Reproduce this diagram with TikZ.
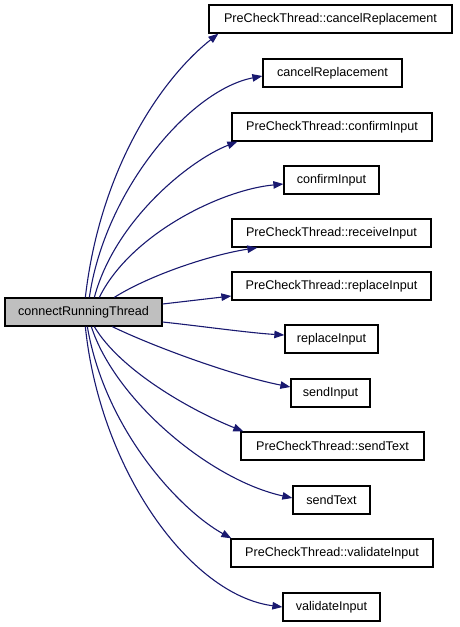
\documentclass[tikz,border=0pt]{standalone}
\usepackage{fontspec}
\setmainfont{Liberation Sans}
\usetikzlibrary{arrows.meta}
\definecolor{edgeblue}{RGB}{25,25,112}
\definecolor{maingray}{RGB}{191,191,191}
\tikzset{
  fnbox/.style={draw=black, line width=1.3pt, fill=white, minimum height=28pt, inner sep=0pt, font=\fontsize{12.6}{14}\selectfont},
  mainbox/.style={fnbox, fill=maingray},
  call/.style={draw=edgeblue, line width=1.1pt, -{Triangle[length=10pt,width=7.5pt]}}
}
\begin{document}
\begin{tikzpicture}[x=1pt,y=-1pt]
\useasboundingbox (0,0) rectangle (459,627);
\node[mainbox, minimum width=157pt] (m) at (83.5,312) {connectRunningThread};
\node[fnbox, minimum width=243pt] (b1) at (330.5,19) {PreCheckThread::cancelReplacement};
\node[fnbox, minimum width=139pt] (b2) at (332.5,73) {cancelReplacement};
\node[fnbox, minimum width=200pt] (b3) at (332,127) {PreCheckThread::confirmInput};
\node[fnbox, minimum width=95pt] (b4) at (331.5,180) {confirmInput};
\node[fnbox, minimum width=199pt] (b5) at (331.5,233) {PreCheckThread::receiveInput};
\node[fnbox, minimum width=199pt] (b6) at (331.5,286) {PreCheckThread::replaceInput};
\node[fnbox, minimum width=93pt] (b7) at (331.5,339) {replaceInput};
\node[fnbox, minimum width=79pt] (b8) at (330.5,393) {sendInput};
\node[fnbox, minimum width=183pt] (b9) at (332.5,446) {PreCheckThread::sendText};
\node[fnbox, minimum width=77pt] (b10) at (331.5,500) {sendText};
\node[fnbox, minimum width=202pt] (b11) at (332,553) {PreCheckThread::validateInput};
\node[fnbox, minimum width=97pt] (b12) at (331.5,607) {validateInput};

\draw[call] ([xshift=81pt]m.north west) .. controls (100,170) and (160,80) .. ([xshift=10pt]b1.south west);
\draw[call] ([xshift=85pt]m.north west) .. controls (105,190) and (190,90) .. ([yshift=-3pt]b2.west);
\draw[call] ([xshift=90pt]m.north west) .. controls (115,220) and (190,160) .. ([xshift=6pt]b3.south west);
\draw[call] ([xshift=95pt]m.north west) .. controls (130,235) and (220,190) .. ([yshift=-4pt]b4.west);
\draw[call] ([xshift=110pt]m.north west) .. controls (150,275) and (210,255) .. ([xshift=26pt]b5.south west);
\draw[call] ([yshift=8pt]m.east) -- ([yshift=-10pt]b6.west);
\draw[call] ([yshift=-10pt]m.east) .. controls (200,326) and (250,333) .. ([yshift=4pt]b7.west);
\draw[call] ([xshift=108pt]m.south west) .. controls (150,345) and (230,375) .. ([yshift=6pt]b8.west);
\draw[call] ([xshift=90pt]m.south west) .. controls (120,370) and (190,410) .. ([xshift=3pt]b9.north west);
\draw[call] ([xshift=87pt]m.south west) .. controls (115,400) and (210,480) .. ([yshift=2pt]b10.west);
\draw[call] ([xshift=83pt]m.south west) .. controls (105,430) and (180,510) .. ([xshift=1pt]b11.north west);
\draw[call] ([xshift=81pt]m.south west) .. controls (100,470) and (190,595) .. (b12.west);
\end{tikzpicture}
\end{document}
